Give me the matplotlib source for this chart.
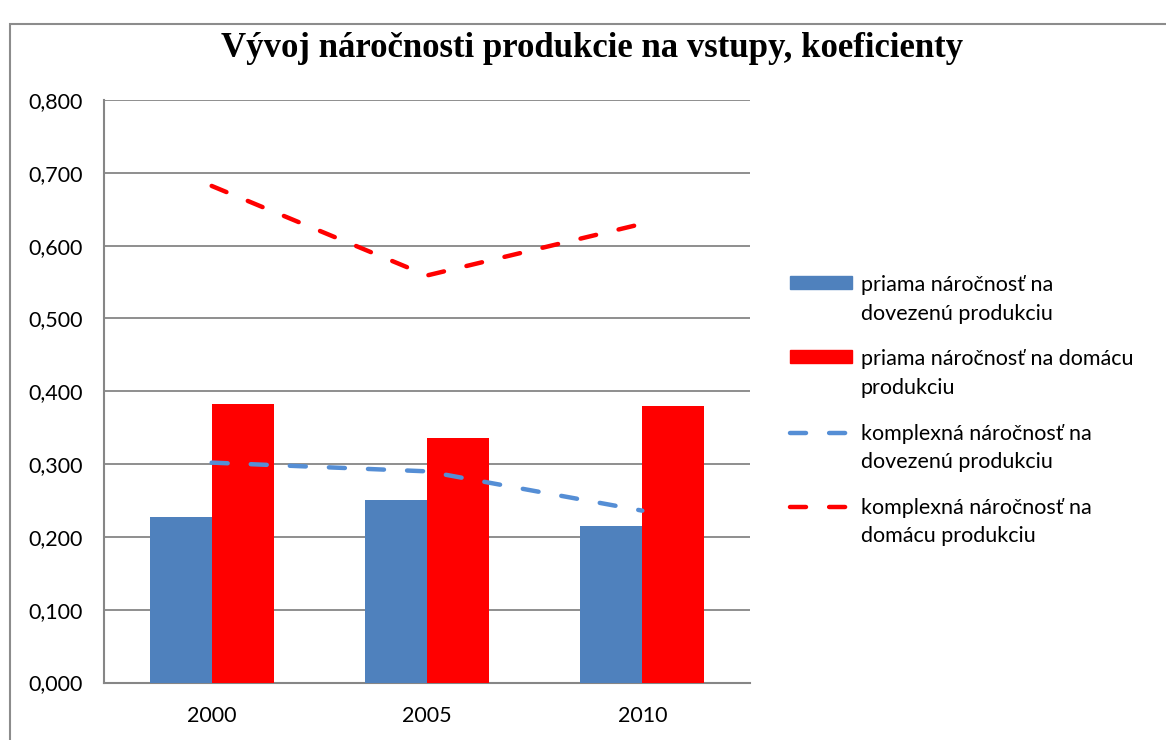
import matplotlib
matplotlib.use('Agg')
import matplotlib.pyplot as plt
import numpy as np
from matplotlib.lines import Line2D
from matplotlib.patches import Rectangle

years = ['2000', '2005', '2010']
priama_dovoz = [0.227, 0.250, 0.215]
priama_domaca = [0.382, 0.336, 0.380]
komplex_dovoz = [0.302, 0.290, 0.236]
komplex_domaca = [0.682, 0.559, 0.630]

labels = [['priama náročnosť na', 'dovezenú produkciu'],
          ['priama náročnosť na domácu', 'produkciu'],
          ['komplexná náročnosť na', 'dovezenú produkciu'],
          ['komplexná náročnosť na', 'domácu produkciu']]
yticks = [0.0, 0.1, 0.2, 0.3, 0.4, 0.5, 0.6, 0.7, 0.8]

blue = '#4F81BD'
red = '#FF0000'
lblue = '#558ED5'
grid = '#868686'
W, H = 1166, 740
LW = 3.2
DASH = (3.6, 5.2)

plt.rcParams['font.family'] = ['Lato', 'DejaVu Sans']


def fx(px):
    return px / W


def fy(py):
    return 1 - py / H


fig = plt.figure(figsize=(W / 100, H / 100), dpi=100)
# chart border (cropped on right and bottom)
fig.patches.append(Rectangle((fx(10), -0.1), 1.2, fy(24) + 0.1, transform=fig.transFigure,
                             fill=False, edgecolor='#8c8c8c', linewidth=1.5))

ax = fig.add_axes([fx(104), fy(682.5), 646 / W, 582.5 / H])

x = np.arange(len(years))
w = 0.288
ax.bar(x - w/2, priama_dovoz, w, color=blue, zorder=3)
ax.bar(x + w/2, priama_domaca, w, color=red, zorder=3)

for vals, c in [(komplex_dovoz, lblue), (komplex_domaca, red)]:
    ln, = ax.plot(x, vals, color=c, lw=LW, zorder=4)
    ln.set_dashes(DASH)
    ln.set_dash_capstyle('round')

ax.set_xlim(-0.5, 2.5)
ax.set_ylim(0, 0.8)
ax.set_yticks(yticks)
ax.set_yticklabels([f'{v:.3f}'.replace('.', ',') for v in yticks])
ax.set_xticks(x)
ax.set_xticklabels(years)
ax.tick_params(axis='both', length=0, labelsize=15.5, colors='black')
ax.tick_params(axis='y', pad=15.5)
ax.tick_params(axis='x', pad=17)
ax.yaxis.grid(True, color=grid, linewidth=1.3, zorder=0)
ax.set_axisbelow(True)
for s in ['top', 'right']:
    ax.spines[s].set_visible(False)
for s in ['left', 'bottom']:
    ax.spines[s].set_color(grid)
    ax.spines[s].set_linewidth(1.5)

fig.text(fx(592), fy(57), 'Vývoj náročnosti produkcie na vstupy, koeficienty',
         family='Liberation Serif', fontweight='bold', fontsize=25, ha='center', va='baseline')

# legend, drawn by hand so the key sits on the first text line like in Excel
base0 = 291
pitch = 74.3
for i, lab in enumerate(labels):
    b = base0 + i * pitch
    if i < 2:
        fig.patches.append(Rectangle((fx(790), fy(b - 2)), 62 / W, 13.5 / H,
                                     transform=fig.transFigure,
                                     color=blue if i == 0 else red))
    else:
        ln = Line2D([fx(790), fx(850)], [fy(b - 7), fy(b - 7)], transform=fig.transFigure,
                    color=lblue if i == 2 else red, lw=LW, dash_capstyle='round')
        ln.set_dashes(DASH)
        fig.lines.append(ln)
    for j, t in enumerate(lab):
        fig.text(fx(861), fy(b + j * 28.5), t, fontsize=15.5, ha='left', va='baseline')

fig.savefig('out.png', dpi=100)
